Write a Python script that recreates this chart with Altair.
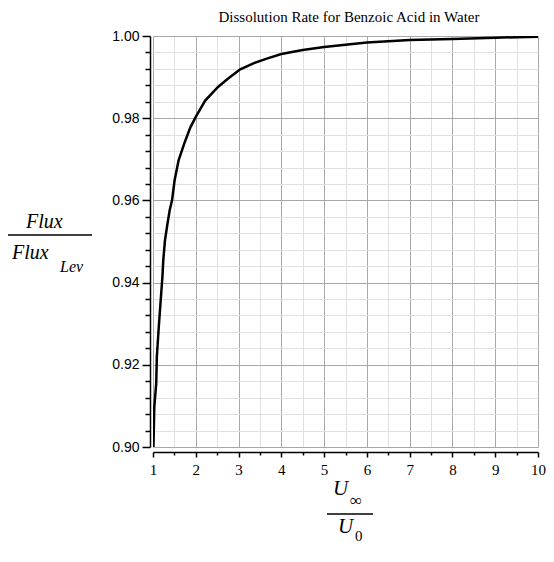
import altair as alt
import pandas as pd

chart_title = "Dissolution Rate for Benzoic Acid in Water"

# U_inf / U_0 and Flux / Flux_Lev
u_ratio = [1.01, 1.03, 1.075, 1.09, 1.135, 1.18, 1.22, 1.24, 1.28, 1.34, 1.39,
           1.445, 1.505, 1.60, 1.73, 1.845, 1.88, 2.0, 2.22, 2.52, 2.75, 3.04,
           3.36, 3.66, 4.0, 4.5, 5.0, 6.0, 7.0, 8.0, 9.0, 10.0]
flux_ratio = [0.900, 0.9097, 0.9154, 0.922, 0.9292, 0.9357, 0.9414, 0.9454, 0.9503,
              0.9544, 0.9576, 0.9600, 0.9649, 0.9698, 0.9738, 0.9770, 0.9779, 0.9803,
              0.9843, 0.9876, 0.9896, 0.9919, 0.9934, 0.9945, 0.9956, 0.9966, 0.9973,
              0.9984, 0.9990, 0.9993, 0.9996, 0.9998]

x_major = [1, 2, 3, 4, 5, 6, 7, 8, 9, 10]
x_minor = [1.5, 2.5, 3.5, 4.5, 5.5, 6.5, 7.5, 8.5, 9.5]
y_major = [0.90, 0.92, 0.94, 0.96, 0.98, 1.00]
y_minor = [0.904, 0.908, 0.912, 0.916, 0.924, 0.928, 0.932, 0.936,
           0.944, 0.948, 0.952, 0.956, 0.964, 0.968, 0.972, 0.976,
           0.984, 0.988, 0.992, 0.996]

x_ticks = sorted(x_major + x_minor)
y_ticks = sorted(y_major + y_minor)

df = pd.DataFrame({"u": u_ratio, "flux": flux_ratio})

x_is_major = f"indexof({x_major}, datum.value) >= 0"
y_is_major = f"indexof({y_major}, datum.value) >= 0"

MAJOR_GRID = "#a8a8a8"
MINOR_GRID = "#e0e0e0"

x_axis = alt.Axis(
    values=x_ticks,
    title=None,
    labelExpr=f"{x_is_major} ? format(datum.value, 'd') : ''",
    labelOverlap=False,
    labelFlush=False,
    labelFont="Liberation Serif",
    labelFontSize=15,
    labelColor="black",
    labelPadding=5,
    tickSize={"condition": {"test": x_is_major, "value": 5}, "value": 3},
    tickColor="black",
    tickWidth=1.5,
    domainColor="black",
    domainWidth=1.5,
    grid=True,
    gridColor={"condition": {"test": x_is_major, "value": MAJOR_GRID}, "value": MINOR_GRID},
    gridWidth=1,
    offset=5,
)

y_axis = alt.Axis(
    values=y_ticks,
    title=None,
    labelExpr=f"{y_is_major} ? format(datum.value, '.2f') : ''",
    labelOverlap=False,
    labelFlush=False,
    labelFont="Liberation Sans",
    labelFontSize=14,
    labelColor="black",
    labelPadding=3,
    tickSize={"condition": {"test": y_is_major, "value": 8}, "value": 5},
    tickColor="black",
    tickWidth=1.5,
    domainColor="black",
    domainWidth=1.5,
    grid=True,
    gridColor={"condition": {"test": y_is_major, "value": MAJOR_GRID}, "value": MINOR_GRID},
    gridWidth=1,
    offset=3,
)

curve = alt.Chart(df).mark_line(color="black", strokeWidth=2.5, clip=True).encode(
    x=alt.X("u:Q", scale=alt.Scale(domain=[1, 10], nice=False, zero=False), axis=x_axis),
    y=alt.Y("flux:Q", scale=alt.Scale(domain=[0.90, 1.00], nice=False, zero=False), axis=y_axis),
    order="u:Q",
)

one = alt.Data(values=[{}])


def label(text, x, y, size, italic=True, align="left"):
    return alt.Chart(one).mark_text(
        text=text, align=align, baseline="middle", font="Liberation Serif",
        fontSize=size, fontStyle="italic" if italic else "normal", color="black",
    ).encode(x=alt.value(x), y=alt.value(y))


def bar(x1, x2, y):
    return alt.Chart(one).mark_rule(color="black", strokeWidth=1.5).encode(
        x=alt.value(x1), x2=alt.value(x2), y=alt.value(y)
    )


annotations = [
    # chart title
    label(chart_title, 196, -19, 15, italic=False, align="center"),
    # y-axis title: Flux / Flux_Lev
    label("Flux", -127, 186, 20),
    bar(-146, -61, 199),
    label("Flux", -141, 217, 20),
    label("Lev", -93, 231, 16),
    # x-axis title: U_inf / U_0
    label("U", 180, 453, 21),
    label("∞", 197, 465, 17, italic=False),
    bar(174, 220, 478),
    label("U", 185, 491, 21),
    label("0", 202, 500, 15, italic=False),
]

chart = alt.layer(curve, *annotations).properties(
    width=385,
    height=411,
    padding={"left": 145, "top": 28, "right": 8, "bottom": 99},
    autosize=alt.AutoSizeParams(type="none"),
).configure_view(stroke=None)

chart.save("out.html", embed_options={"renderer": "svg", "actions": False})
